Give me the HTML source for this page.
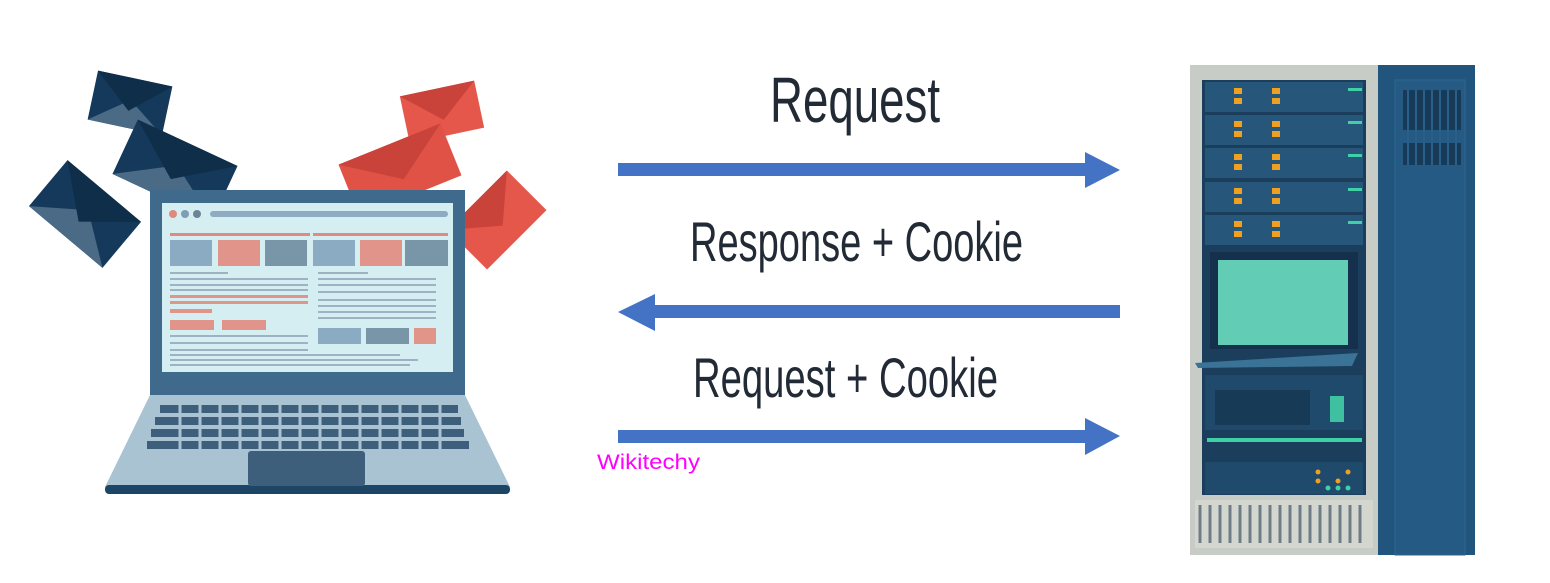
<!DOCTYPE html>
<html><head><meta charset="utf-8"><style>
html,body{margin:0;padding:0;background:#fff;}
svg{display:block;}
</style></head><body>
<svg width="1550" height="583" viewBox="0 0 1550 583" xmlns="http://www.w3.org/2000/svg">
<rect width="1550" height="583" fill="#fff"/>
<g transform="translate(130,103) rotate(12)"><rect x="-38" y="-25" width="76" height="50" fill="#14395a"/><polygon points="-38,25 0,-3 38,25" fill="#4a6a86"/><polygon points="-38,-25 0,8 38,-25" fill="#0f2e4a"/></g>
<g transform="translate(175,170) rotate(25)"><rect x="-55" y="-30" width="110" height="60" fill="#14395a"/><polygon points="-55,30 0,-5 55,30" fill="#4a6a86"/><polygon points="-55,-30 0,10 55,-30" fill="#0f2e4a"/></g>
<g transform="translate(85,214) rotate(40)"><rect x="-48" y="-30" width="96" height="60" fill="#14395a"/><polygon points="-48,30 0,-5 48,30" fill="#4a6a86"/><polygon points="-48,-30 0,10 48,-30" fill="#0f2e4a"/></g>
<g transform="translate(442,112) rotate(-12)"><rect x="-38" y="-24" width="76" height="48" fill="#e5574a"/><polygon points="-38,-24 0,8 38,-24" fill="#c9433a"/></g>
<g transform="translate(400,170) rotate(-22)"><rect x="-55" y="-28" width="110" height="56" fill="#e05245"/><polygon points="-55,-28 0,10 55,-28" fill="#c9433a"/></g>
<g transform="translate(497,220) rotate(-45)"><rect x="-42" y="-28" width="84" height="56" fill="#e5574a"/><polygon points="-42,-28 0,8 42,-28" fill="#c9433a"/></g>
<polygon points="150,395 465,395 510,487 105,487" fill="#a9c3d3"/>
<rect x="105" y="485" width="405" height="9" rx="4" fill="#1d4566"/>
<rect x="150" y="190" width="315" height="205" fill="#3f6a8c"/>
<rect x="162" y="203" width="291" height="169" fill="#d5eef2"/>
<circle cx="173" cy="214" r="4" fill="#e0897e"/><circle cx="185" cy="214" r="4" fill="#7f9db5"/><circle cx="197" cy="214" r="4" fill="#6a8499"/>
<rect x="210" y="211" width="238" height="6" rx="3" fill="#8fabc2"/>
<rect x="170" y="233" width="140" height="3" fill="#e08a80"/><rect x="313" y="233" width="135" height="3" fill="#e08a80"/>
<rect x="170" y="240" width="42" height="26" fill="#8aabc2"/><rect x="218" y="240" width="42" height="26" fill="#e1948a"/><rect x="265" y="240" width="42" height="26" fill="#7896a8"/>
<rect x="313" y="240" width="42" height="26" fill="#8aabc2"/><rect x="360" y="240" width="42" height="26" fill="#e1948a"/><rect x="405" y="240" width="43" height="26" fill="#7896a8"/>
<g fill="#9db3c4"><rect x="170" y="272" width="58" height="2"/><rect x="170" y="278" width="138" height="2"/><rect x="170" y="284" width="138" height="2"/><rect x="170" y="289" width="138" height="2"/>
<rect x="318" y="272" width="50" height="2"/><rect x="318" y="278" width="118" height="2"/><rect x="318" y="284" width="118" height="2"/><rect x="318" y="291" width="118" height="2"/><rect x="318" y="299" width="118" height="2"/><rect x="318" y="305" width="118" height="2"/><rect x="318" y="311" width="118" height="2"/><rect x="318" y="317" width="118" height="2"/>
<rect x="170" y="335" width="138" height="2"/><rect x="170" y="342" width="138" height="2"/><rect x="170" y="349" width="138" height="2"/><rect x="170" y="354" width="230" height="2"/><rect x="170" y="359" width="248" height="2"/><rect x="170" y="364" width="240" height="2"/></g>
<g fill="#e1948a"><rect x="170" y="295" width="138" height="3"/><rect x="170" y="301" width="138" height="3"/><rect x="170" y="309" width="42" height="4"/><rect x="170" y="320" width="44" height="10"/><rect x="222" y="320" width="44" height="10"/><rect x="414" y="328" width="22" height="16"/></g>
<rect x="318" y="328" width="43" height="16" fill="#8aabc2"/><rect x="366" y="328" width="43" height="16" fill="#7896a8"/>
<g fill="#3e5f7c"><rect x="160" y="405" width="298" height="8"/><rect x="155" y="417" width="306" height="8"/><rect x="151" y="429" width="313" height="8"/><rect x="147" y="441" width="322" height="8"/></g>
<g stroke="#a9c3d3" stroke-width="3"><line x1="180" y1="403" x2="180" y2="451"/><line x1="200" y1="403" x2="200" y2="451"/><line x1="220" y1="403" x2="220" y2="451"/><line x1="240" y1="403" x2="240" y2="451"/><line x1="260" y1="403" x2="260" y2="451"/><line x1="280" y1="403" x2="280" y2="451"/><line x1="300" y1="403" x2="300" y2="451"/><line x1="320" y1="403" x2="320" y2="451"/><line x1="340" y1="403" x2="340" y2="451"/><line x1="360" y1="403" x2="360" y2="451"/><line x1="380" y1="403" x2="380" y2="451"/><line x1="400" y1="403" x2="400" y2="451"/><line x1="420" y1="403" x2="420" y2="451"/><line x1="440" y1="403" x2="440" y2="451"/></g>
<rect x="248" y="451" width="117" height="35" rx="3" fill="#3e5f7c"/>
<g fill="#4472c4">
<rect x="618" y="163" width="470" height="13"/><polygon points="1085,152 1120,170 1085,188"/>
<rect x="650" y="305" width="470" height="13"/><polygon points="655,294 618,312 655,331"/>
<rect x="618" y="430" width="470" height="13"/><polygon points="1085,418 1120,436 1085,455"/>
</g>
<g font-family="Liberation Sans, sans-serif" fill="#222a35">
<text x="770" y="122" font-size="64" textLength="170" lengthAdjust="spacingAndGlyphs">Request</text>
<text x="690" y="261" font-size="56" textLength="333" lengthAdjust="spacingAndGlyphs">Response + Cookie</text>
<text x="693" y="397" font-size="56" textLength="305" lengthAdjust="spacingAndGlyphs">Request + Cookie</text>
</g>
<text x="597" y="469" font-family="Liberation Sans, sans-serif" font-size="21" fill="#ff00ff" textLength="103" lengthAdjust="spacingAndGlyphs">Wikitechy</text>
<rect x="1378" y="65" width="97" height="490" fill="#22557e"/>
<rect x="1395" y="80" width="70" height="475" fill="#245a84" stroke="#2c6690" stroke-width="1"/>
<g fill="#163a58"><rect x="1403" y="90" width="58" height="40"/><rect x="1403" y="143" width="58" height="22"/></g>
<g stroke="#2a5f88" stroke-width="2"><line x1="1408" y1="90" x2="1408" y2="165"/><line x1="1416" y1="90" x2="1416" y2="165"/><line x1="1424" y1="90" x2="1424" y2="165"/><line x1="1432" y1="90" x2="1432" y2="165"/><line x1="1440" y1="90" x2="1440" y2="165"/><line x1="1448" y1="90" x2="1448" y2="165"/><line x1="1456" y1="90" x2="1456" y2="165"/></g>
<rect x="1190" y="65" width="188" height="490" fill="#c8ccc6"/>
<rect x="1202" y="80" width="164" height="415" fill="#1b3e5c"/>
<g fill="#26567a"><rect x="1205" y="82" width="158" height="30"/><rect x="1205" y="115" width="158" height="30"/><rect x="1205" y="148" width="158" height="30"/><rect x="1205" y="182" width="158" height="30"/><rect x="1205" y="215" width="158" height="30"/></g>
<g fill="#f0a020">
<rect x="1234" y="88" width="8" height="6"/><rect x="1234" y="98" width="8" height="6"/><rect x="1272" y="88" width="8" height="6"/><rect x="1272" y="98" width="8" height="6"/>
<rect x="1234" y="121" width="8" height="6"/><rect x="1234" y="131" width="8" height="6"/><rect x="1272" y="121" width="8" height="6"/><rect x="1272" y="131" width="8" height="6"/>
<rect x="1234" y="154" width="8" height="6"/><rect x="1234" y="164" width="8" height="6"/><rect x="1272" y="154" width="8" height="6"/><rect x="1272" y="164" width="8" height="6"/>
<rect x="1234" y="188" width="8" height="6"/><rect x="1234" y="198" width="8" height="6"/><rect x="1272" y="188" width="8" height="6"/><rect x="1272" y="198" width="8" height="6"/>
<rect x="1234" y="221" width="8" height="6"/><rect x="1234" y="231" width="8" height="6"/><rect x="1272" y="221" width="8" height="6"/><rect x="1272" y="231" width="8" height="6"/></g>
<g fill="#3fd0a8"><rect x="1348" y="88" width="14" height="3"/><rect x="1348" y="121" width="14" height="3"/><rect x="1348" y="154" width="14" height="3"/><rect x="1348" y="188" width="14" height="3"/><rect x="1348" y="221" width="14" height="3"/></g>
<rect x="1210" y="252" width="148" height="97" fill="#14304c"/>
<rect x="1218" y="260" width="130" height="85" fill="#62cdb4"/>
<polygon points="1195,363 1358,353 1352,366 1198,368" fill="#3a7396"/>
<rect x="1205" y="375" width="158" height="55" fill="#1f4a6c"/>
<rect x="1215" y="390" width="95" height="35" fill="#173a56"/>
<rect x="1330" y="396" width="14" height="26" fill="#3fc0a0"/>
<rect x="1207" y="438" width="155" height="4" fill="#3fd0a8"/>
<rect x="1205" y="462" width="158" height="32" fill="#1f4a6c"/>
<g fill="#f0a020"><circle cx="1318" cy="472" r="2.5"/><circle cx="1348" cy="472" r="2.5"/><circle cx="1318" cy="481" r="2.5"/><circle cx="1338" cy="481" r="2.5"/></g>
<g fill="#3fd0a8"><circle cx="1328" cy="488" r="2.5"/><circle cx="1338" cy="488" r="2.5"/><circle cx="1348" cy="488" r="2.5"/></g>
<rect x="1195" y="500" width="178" height="48" fill="#d4d6d0"/>
<g stroke="#6f7d86" stroke-width="3"><line x1="1200" y1="505" x2="1200" y2="543"/><line x1="1210" y1="505" x2="1210" y2="543"/><line x1="1220" y1="505" x2="1220" y2="543"/><line x1="1230" y1="505" x2="1230" y2="543"/><line x1="1240" y1="505" x2="1240" y2="543"/><line x1="1250" y1="505" x2="1250" y2="543"/><line x1="1260" y1="505" x2="1260" y2="543"/><line x1="1270" y1="505" x2="1270" y2="543"/><line x1="1280" y1="505" x2="1280" y2="543"/><line x1="1290" y1="505" x2="1290" y2="543"/><line x1="1300" y1="505" x2="1300" y2="543"/><line x1="1310" y1="505" x2="1310" y2="543"/><line x1="1320" y1="505" x2="1320" y2="543"/><line x1="1330" y1="505" x2="1330" y2="543"/><line x1="1340" y1="505" x2="1340" y2="543"/><line x1="1350" y1="505" x2="1350" y2="543"/><line x1="1360" y1="505" x2="1360" y2="543"/></g>
</svg>
</body></html>
